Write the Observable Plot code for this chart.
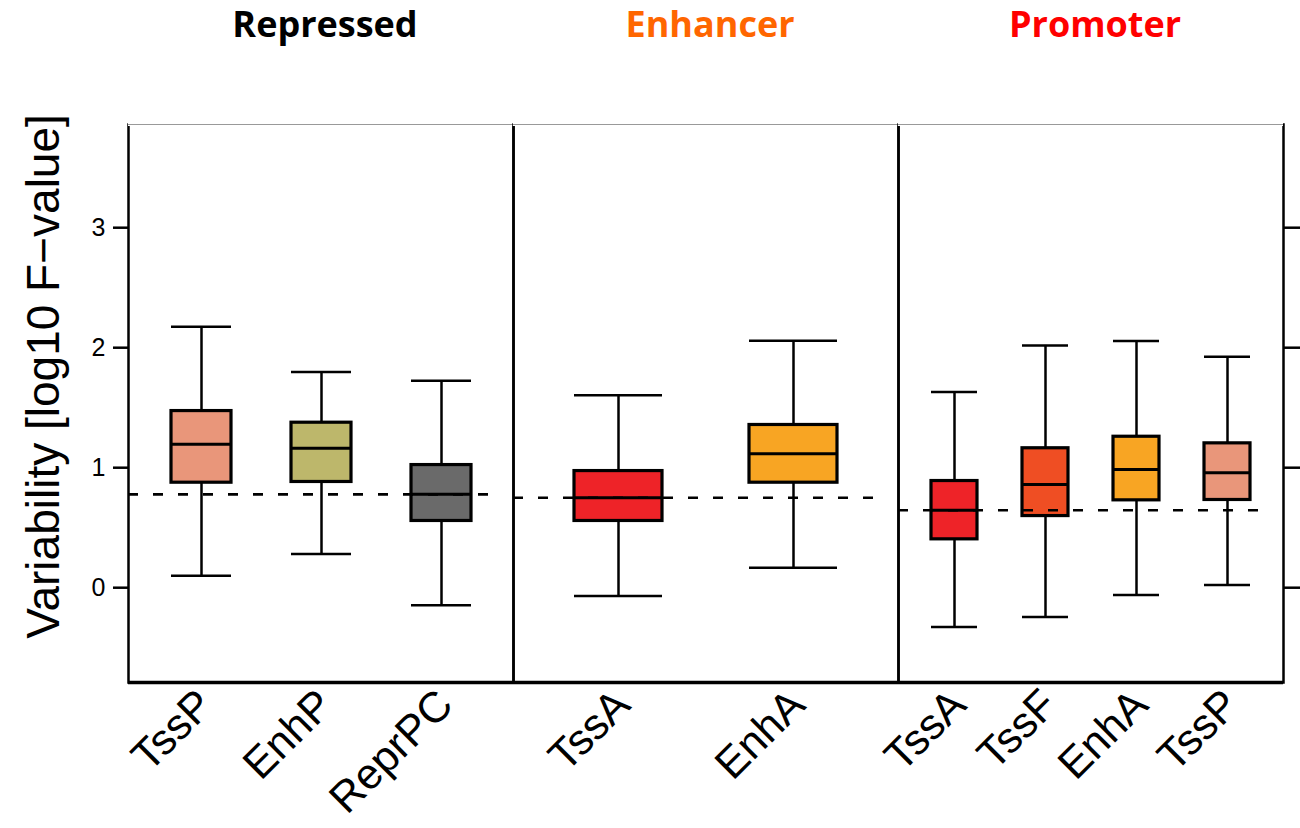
<!DOCTYPE html>
<html>
<head>
<meta charset="utf-8">
<script src="https://cdn.jsdelivr.net/npm/d3@7"></script>
<script src="https://cdn.jsdelivr.net/npm/@observablehq/plot@0.6"></script>
<style>
  body { margin: 0; background: #fff; }
  #row { display: flex; width: 1300px; height: 828px; }
  #row > * { flex: none; overflow: visible; }
</style>
</head>
<body>
<div id="row"></div>
<script>
// ---- data ----
const groups = ["Repressed", "Enhancer", "Promoter"];
const groupColors = ["#000000", "#FF6600", "#FF0000"];
const refLine = [0.778, 0.75, 0.645];

const group  = ["Repressed", "Repressed", "Repressed", "Enhancer", "Enhancer", "Promoter", "Promoter", "Promoter", "Promoter"];
const state  = ["TssP", "EnhP", "ReprPC", "TssA", "EnhA", "TssA", "TssF", "EnhA", "TssP"];
const lo     = [0.10, 0.28, -0.147, -0.07, 0.167, -0.328, -0.244, -0.061, 0.022];
const q1     = [0.875, 0.881, 0.556, 0.556, 0.875, 0.403, 0.597, 0.728, 0.731];
const median = [1.195, 1.162, 0.778, 0.75, 1.117, 0.645, 0.861, 0.986, 0.958];
const q3     = [1.472, 1.375, 1.022, 0.972, 1.356, 0.889, 1.162, 1.258, 1.203];
const hi     = [2.175, 1.797, 1.725, 1.603, 2.058, 1.631, 2.019, 2.056, 1.925];
const fills  = ["#E9967A", "#BDB76B", "#6A6A6A", "#EE2328", "#F8A523", "#EE2328", "#EF4E23", "#F8A523", "#E9967A"];

const yDomain = [-0.79, 3.86];
const yTicks = [0, 1, 2, 3];
const yLabel = "Variability [log10 F\u2212value]";

const rowsAll = state.map((s, i) => ({
  group: group[i], state: s, lo: lo[i], q1: q1[i], median: median[i], q3: q3[i], hi: hi[i], fill: fills[i]
}));

const hasAxisMarks = typeof Plot.axisX === "function";
const FONT = "Liberation Sans, Arial, sans-serif";
const fmt = d3.format("d");

function panel(gi) {
  const rows = rowsAll.filter(d => d.group === groups[gi]);
  const first = gi === 0, last = gi === groups.length - 1;
  const marginLeft = first ? 128 : 0;
  const marginRight = last ? 17 : 0;
  const inner = 385;
  const marks = [
    Plot.frame({stroke: "#000", strokeWidth: 2.5}),
    Plot.ruleY([yDomain[1]], {stroke: "#fff", strokeWidth: 3}),
    Plot.ruleY([yDomain[1]], {stroke: "#999", strokeWidth: 1}),
    Plot.ruleY([yDomain[0]], {stroke: "#000", strokeWidth: 3.5}),
    Plot.ruleX(rows, {x: "state", y1: "lo", y2: "q1", stroke: "#000", strokeWidth: 2.5}),
    Plot.ruleX(rows, {x: "state", y1: "q3", y2: "hi", stroke: "#000", strokeWidth: 2.5}),
    Plot.tickY(rows, {x: "state", y: "lo", stroke: "#000", strokeWidth: 2.5}),
    Plot.tickY(rows, {x: "state", y: "hi", stroke: "#000", strokeWidth: 2.5}),
    Plot.barY(rows, {x: "state", y1: "q1", y2: "q3", fill: d => d.fill, stroke: "#000", strokeWidth: 3.2}),
    Plot.tickY(rows, {x: "state", y: "median", stroke: "#000", strokeWidth: 3}),
    Plot.ruleY([refLine[gi]], {stroke: "#000", strokeWidth: 2.6, strokeDasharray: "10,15", insetRight: 15}),
    Plot.text([groups[gi]], {
      frameAnchor: "top", lineAnchor: "middle", textAnchor: "middle", dy: -99, dx: 4,
      fontSize: 36, fontWeight: "bold", fontFamily: "Open Sans, Liberation Sans, sans-serif",
      fill: groupColors[gi]
    })
  ];
  if (first) {
    marks.push(Plot.text([yLabel], {
      frameAnchor: "left", textAnchor: "middle", rotate: -90, dx: -84, dy: -27, lineAnchor: "middle",
      fontSize: 46, fontFamily: FONT, fill: "#000"
    }));
  }
  if (hasAxisMarks) {
    marks.push(Plot.axisX({tickSize: 0, tickRotate: -45, tickPadding: 15, dx: 4, fontSize: 43, fontFamily: FONT, label: null}));
    if (first) {
      marks.push(Plot.axisY(yTicks, {anchor: "left", tickSize: 15, tickPadding: 8, fontSize: 25, fontFamily: FONT, strokeWidth: 2.5, tickFormat: fmt, label: null}));
    }
    if (last) {
      marks.push(Plot.axisY(yTicks, {anchor: "right", tickSize: 17, tickFormat: () => "", strokeWidth: 2.5, label: null}));
    }
  }
  return Plot.plot({
    width: marginLeft + inner + marginRight,
    height: 828,
    marginTop: 124,
    marginBottom: 146,
    marginLeft,
    marginRight,
    style: {fontFamily: FONT, fontSize: hasAxisMarks ? "25px" : "30px", background: "transparent", color: "#000", overflow: "visible"},
    color: {type: "identity"},
    x: hasAxisMarks
      ? {domain: rows.map(d => d.state), paddingInner: 0.5, paddingOuter: 0.35, axis: null}
      : {domain: rows.map(d => d.state), paddingInner: 0.5, paddingOuter: 0.35, tickSize: 0, tickRotate: -45, tickPadding: 15, label: null},
    y: hasAxisMarks
      ? {domain: yDomain, axis: null}
      : {domain: yDomain, ticks: yTicks, axis: first ? "left" : last ? "right" : null,
         tickSize: first ? 15 : 17, tickPadding: 8, label: null,
         tickFormat: last ? () => "" : fmt},
    marks
  });
}

const row = document.getElementById("row");
groups.forEach((g, gi) => row.append(panel(gi)));
</script>
</body>
</html>
